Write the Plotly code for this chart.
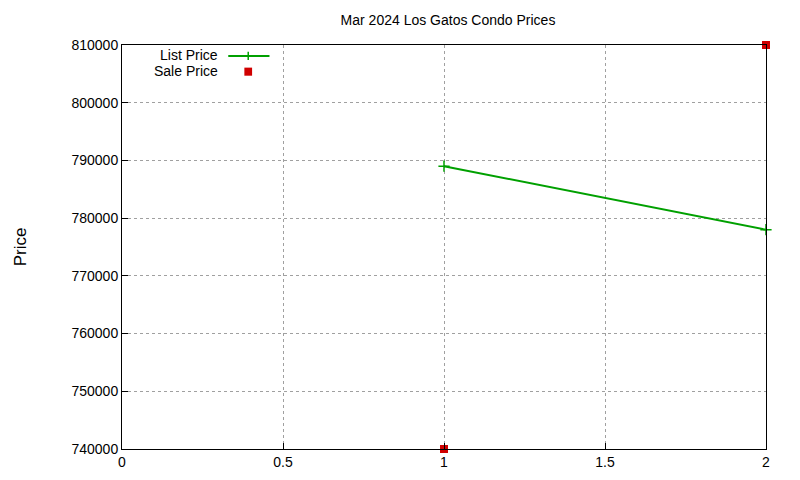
import plotly.graph_objects as go

x_vals = [1, 2]
list_price = [789000, 778000]
sale_price = [740000, 810000]

fig = go.Figure()
fig.add_trace(go.Scatter(x=x_vals, y=list_price, mode="lines+markers", name="List Price",
                         line=dict(color="#00a000", width=2),
                         marker=dict(symbol="cross-thin", size=8, line=dict(color="#00a000", width=1.5)),
                         cliponaxis=False))
fig.add_trace(go.Scatter(x=x_vals, y=sale_price, mode="markers", name="Sale Price",
                         marker=dict(symbol="square", size=8, color="#d00000"),
                         cliponaxis=False))

# gnuplot-like legend, top left inside the plot
fig.add_annotation(x=0.152, y=0.975, xref="paper", yref="paper", text="List Price",
                   showarrow=False, xanchor="right", yanchor="middle", font=dict(size=14))
fig.add_annotation(x=0.152, y=0.935, xref="paper", yref="paper", text="Sale Price",
                   showarrow=False, xanchor="right", yanchor="middle", font=dict(size=14))
fig.add_shape(type="line", xref="paper", yref="paper", x0=0.165, x1=0.229, y0=0.973, y1=0.973,
              line=dict(color="#00a000", width=2))
fig.add_shape(type="line", xref="paper", yref="paper", x0=0.196, x1=0.196, y0=0.963, y1=0.983,
              line=dict(color="#00a000", width=1.5))
fig.add_shape(type="rect", xref="paper", yref="paper", x0=0.190, x1=0.202, y0=0.924, y1=0.944,
              fillcolor="#d00000", line=dict(width=0))

axis = dict(showgrid=True, gridcolor="#a0a0a0", griddash="dot", gridwidth=1,
            showline=True, linecolor="black", mirror=True, zeroline=False,
            ticks="inside", ticklen=6, tickcolor="black")
fig.update_xaxes(range=[0, 2], tickvals=[0, 0.5, 1, 1.5, 2], ticktext=["0", "0.5", "1", "1.5", "2"], **axis)
fig.update_yaxes(range=[740000, 810000], dtick=10000, tickformat="d",
                 title=dict(text="Price", standoff=40), **axis)

fig.update_layout(
    title=dict(text="Mar 2024 Los Gatos Condo Prices", x=0.55, xanchor="center",
               y=0.975, yanchor="middle", font=dict(size=14)),
    width=800, height=480, showlegend=False,
    font=dict(family="Liberation Sans, Arial", size=14, color="black"),
    plot_bgcolor="white", paper_bgcolor="white",
    margin=dict(l=111, r=42, t=37, b=39),
)

fig.write_html("out.html")
